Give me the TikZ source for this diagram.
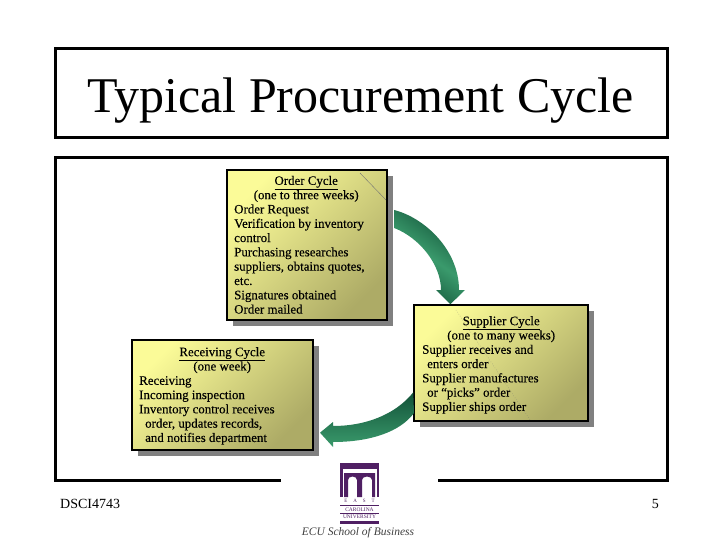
\documentclass[tikz,border=0pt]{standalone}
\usepackage{fontspec}
\setmainfont{Liberation Serif}
\newfontfamily\bodyfont[FakeBold=0.25]{Liberation Serif}
\usetikzlibrary{shadows,calc}
\definecolor{boxlight}{HTML}{FBFB98}
\definecolor{boxdark}{HTML}{ADAB66}
\definecolor{arrowdark}{HTML}{125238}
\definecolor{arrowlight}{HTML}{3A9A6C}
\definecolor{ecupurple}{HTML}{4F1F63}
\tikzset{
  x=1pt,y=-1pt,
  frameline/.style={draw=black,line width=3pt},
  notebox/.style={draw=black,line width=2pt,anchor=north west,inner sep=0pt,
    shading=axis,left color=boxlight,right color=boxdark,shading angle=45,
    drop shadow={shadow xshift=6pt,shadow yshift=-6pt,fill=black!50,opacity=1}},
  bodytext/.style={anchor=north west,align=left,inner sep=0pt,font=\bodyfont\fontsize{12.9}{14.3}\selectfont},
  scratch/.style={draw=black!55,line width=0.4pt},
}
\newcommand{\ctr}[2]{\makebox[#1pt][c]{#2}}
\begin{document}
\begin{tikzpicture}
\useasboundingbox (0,0) rectangle (720,540);
\node[frameline,anchor=north west,minimum width=612.5pt,minimum height=89pt,inner sep=0pt,outer sep=0pt] (titlebox) at (55,49) {};
\node[font=\fontsize{50}{52}\selectfont,inner sep=0pt] (title) at (360.5,100.5) {Typical Procurement Cycle};
\coordinate (fbl) at (55,480.5);\coordinate (ftl) at (55,157.5);\coordinate (ftr) at (667.5,157.5);\coordinate (fbr) at (667.5,480.5);
\coordinate (gapl) at (280.5,480.5);\coordinate (gapr) at (438,480.5);
\draw[frameline] (gapl) -- (fbl) -- (ftl) -- (ftr) -- (fbr) -- (gapr);
% boxes
\node[notebox,minimum width=159.7pt,minimum height=149.4pt] (order) at (226,169.3) {};
\node[notebox,minimum width=181pt,minimum height=109.4pt] (receiving) at (131,339.3) {};
\node[notebox,minimum width=173.7pt,minimum height=116pt] (supplier) at (413.3,304.3) {};
% arrows
\coordinate (a1s) at ($(order.north east)+(6.5,49.7)$);
\coordinate (a1t) at ($(supplier.north west)+(37,0)$);
\path[top color=arrowdark,bottom color=arrowdark,middle color=arrowlight,shading angle=-35]
  (a1s) ++(0,-9) .. controls (425,218) and (459,250) .. (459,290) -- (465,290) -- (a1t) -- (436,290) -- (441,290)
  .. controls (441,265) and (420,238) .. ($(a1s)+(0,9)$) -- cycle;
\coordinate (a2s) at ($(supplier.south west)+(0,-30)$);
\coordinate (a2t) at ($(receiving.south east)+(6,-18)$);
\path[left color=arrowdark,right color=arrowlight,shading angle=0]
  (a2s) .. controls (395,415) and (365,426) .. (333,426) -- (333,422) -- (a2t) -- (333,447) -- (333,442)
  .. controls (370,442) and (400,432) .. (414,413) -- cycle;
% texts
\draw[scratch] (360,173) -- (386,200);
\node[bodytext] (ordertext) at (234,175.7) {\ctr{144}{\underline{Order Cycle}}\\\ctr{144}{(one to three weeks)}\\Order Request\\Verification by inventory\\control\\Purchasing researches\\suppliers, obtains quotes,\\etc.\\Signatures obtained\\Order mailed};
\node[bodytext] (receivingtext) at (139,347) {\ctr{166}{\underline{Receiving Cycle}}\\\ctr{166}{(one week)}\\Receiving\\Incoming inspection\\Inventory control receives\\\hspace{6pt}order, updates records,\\\hspace{6pt}and notifies department};
\draw[scratch,dotted] (456,310) -- (530,420);
\node[bodytext] (suppliertext) at (422,316) {\ctr{158}{\underline{Supplier Cycle}}\\\ctr{158}{(one to many weeks)}\\Supplier receives and\\\hspace{5pt}enters order\\Supplier manufactures\\\hspace{5pt}or “picks” order\\Supplier ships order};
% footer
\node[font=\fontsize{14}{15}\selectfont,anchor=west,inner sep=0pt] (course) at (60,504) {DSCI4743};
\node[font=\fontsize{14}{15}\selectfont,anchor=east,inner sep=0pt] (page) at (659,504) {5};
% logo
\fill[ecupurple] (340,463) rectangle (379,497);
\fill[white] (342.5,469) rectangle (376.5,497);
\fill[ecupurple] (344,473) -- (375,473) -- (375,497) -- (372,497) -- (372,480) arc[start angle=0,end angle=180,x radius=5,y radius=-3.5] -- (362,497) -- (357,497) -- (357,480) arc[start angle=0,end angle=180,x radius=4.5,y radius=-3.5] -- (348,497) -- (344,497) -- cycle;
\node[font=\fontsize{5}{5}\selectfont,inner sep=0pt,text=ecupurple] (east) at (359.5,501) {E\hspace{6pt}A\hspace{6pt}S\hspace{6pt}T};
\node[font=\fontsize{5.5}{6}\selectfont,inner sep=0pt,text=ecupurple] (carolina) at (359.5,509.5) {CAROLINA};
\node[font=\fontsize{5.5}{6}\selectfont,inner sep=0pt,text=ecupurple] (university) at (359.5,517) {UNIVERSITY};
\fill[ecupurple] (340,505) rectangle (379,506);
\fill[ecupurple] (340,513) rectangle (379,514);
\fill[ecupurple] (340,521) rectangle (379,523.5);
\node[font=\itshape\fontsize{11.5}{12}\selectfont,inner sep=0pt,text=black!75] (school) at (358,532.5) {ECU School of Business};
\end{tikzpicture}
\end{document}
